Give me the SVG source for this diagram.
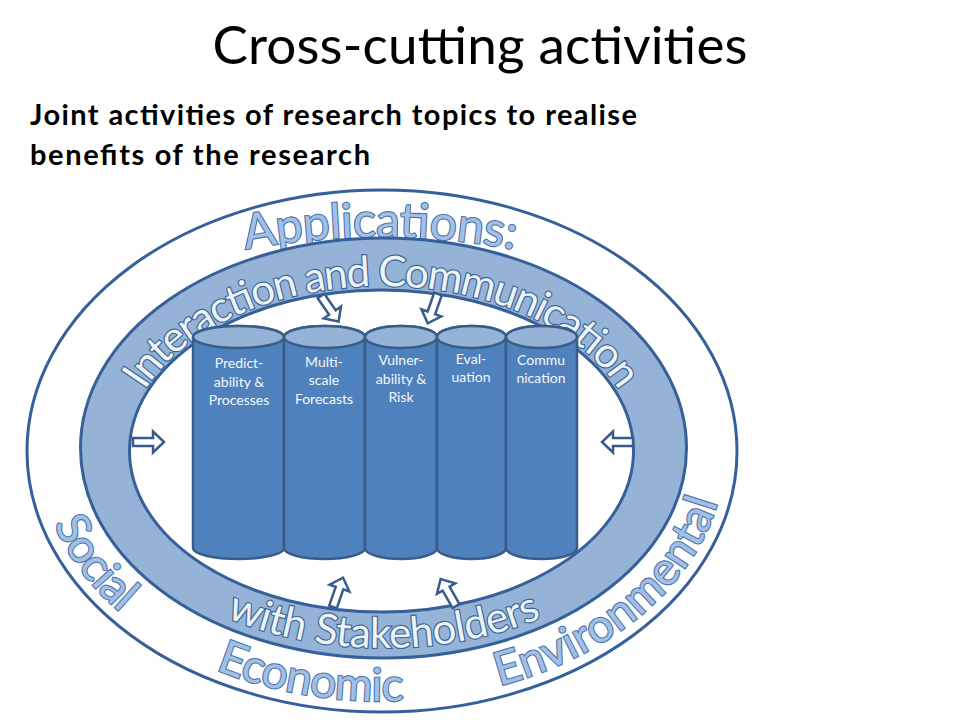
<svg xmlns="http://www.w3.org/2000/svg" width="960" height="720" viewBox="0 0 960 720">
<style>
.title{font-family:Lato,"Liberation Sans",sans-serif;font-size:53px;fill:#000}
.sub{font-family:Lato,"Liberation Sans",sans-serif;font-size:29px;font-weight:bold;fill:#000}
.edge{stroke:#36609A;stroke-width:3}
.cylb{fill:#4F81BD;stroke:#385D8A;stroke-width:2.5}
.cylt{fill:#95B3D7;stroke:#385D8A;stroke-width:2.5}
.ct{font-family:Lato,"Liberation Sans",sans-serif;font-size:14px;fill:#F4F7FB;text-anchor:middle}
.wa{font-family:Lato,"Liberation Sans",sans-serif;fill:#A3BFE3;stroke:#4A74AC;stroke-width:2.2;paint-order:stroke}
.wb{font-family:Lato,"Liberation Sans",sans-serif;fill:#EEF3F4;stroke:#3B659C;stroke-width:2.4;paint-order:stroke}
.arr{fill:#FFFFFF;stroke:#385D8A;stroke-width:2.5;stroke-linejoin:miter}
</style>
<defs>
<path id="arrow" d="M0,-4 L20,-4 L20,-10.5 L31,0 L20,10.5 L20,4 L0,4 Z"/>
<path id="pApp" d="M150,274 A732,732 0 0 1 610,274"/>
<path id="pInt" d="M127,451 A255,165 0 0 1 637,451"/>
<path id="pStk" d="M89,450 A295,198 0 0 0 679,450"/>
<path id="pSoc" d="M54,524 A343,250 0 0 0 210.5,667.5"/>
<path id="pEco" d="M215.7,669.7 A343,250 0 0 0 553.5,667.5"/>
<path id="pEnv" d="M499.3,685.9 A343,250 0 0 0 725,451"/>
</defs>

<text class="title" x="480" y="64" text-anchor="middle" textLength="535">Cross-cutting activities</text>
<text class="sub" x="30" y="125" textLength="607">Joint activities of research topics to realise</text>
<text class="sub" x="30" y="165" textLength="340">benefits of the research</text>

<g id="applications">
<ellipse cx="382" cy="451" rx="355" ry="261" fill="#FFFFFF" class="edge"/>
<text class="wa" font-size="48"><textPath href="#pApp" startOffset="50%" text-anchor="middle" textLength="270">Applications:</textPath></text>
<text class="wa" font-size="46"><textPath href="#pSoc" textLength="112">Social</textPath></text>
<text class="wa" font-size="46"><textPath href="#pEco" textLength="192">Economic</textPath></text>
<text class="wa" font-size="46"><textPath href="#pEnv" textLength="298">Environmental</textPath></text>
</g>

<g id="interaction">
<ellipse cx="383.5" cy="448" rx="303" ry="210" fill="#95B3D7" class="edge"/>
<ellipse cx="381.5" cy="451" rx="252" ry="161" fill="#FFFFFF" class="edge"/>
<text class="wb" font-size="42"><textPath href="#pInt" startOffset="50%" text-anchor="middle" textLength="539">Interaction and Communication</textPath></text>
<text class="wb" font-size="42"><textPath href="#pStk" startOffset="50%" text-anchor="middle" textLength="323">with Stakeholders</textPath></text>
</g>

<g id="cyl-predictability">
<path class="cylb" d="M193,337 L193,548 A45.5,11 0 0 0 284,548 L284,337 A45.5,11 0 0 0 193,337 Z"/>
<ellipse class="cylt" cx="238.5" cy="337" rx="45.5" ry="11"/>
<text class="ct" x="239" y="368">Predict-<tspan x="239" dy="18.5">ability  &amp;</tspan><tspan x="239" dy="18.5">Processes</tspan></text>
</g>
<g id="cyl-multiscale">
<path class="cylb" d="M284,337 L284,548 A40.5,11 0 0 0 365,548 L365,337 A40.5,11 0 0 0 284,337 Z"/>
<ellipse class="cylt" cx="324.5" cy="337" rx="40.5" ry="11"/>
<text class="ct" x="324" y="366.5">Multi-<tspan x="324" dy="18.5">scale</tspan><tspan x="324" dy="18.5">Forecasts</tspan></text>
</g>
<g id="cyl-vulnerability">
<path class="cylb" d="M365,337 L365,548 A36,11 0 0 0 437,548 L437,337 A36,11 0 0 0 365,337 Z"/>
<ellipse class="cylt" cx="401" cy="337" rx="36" ry="11"/>
<text class="ct" x="401" y="365">Vulner-<tspan x="401" dy="18.5">ability &amp;</tspan><tspan x="401" dy="18.5">Risk</tspan></text>
</g>
<g id="cyl-evaluation">
<path class="cylb" d="M437,337 L437,548 A34.5,11 0 0 0 506,548 L506,337 A34.5,11 0 0 0 437,337 Z"/>
<ellipse class="cylt" cx="471.5" cy="337" rx="34.5" ry="11"/>
<text class="ct" x="471" y="363.5">Eval-<tspan x="471" dy="18.5">uation</tspan></text>
</g>
<g id="cyl-communication">
<path class="cylb" d="M506,337 L506,548 A35.5,11 0 0 0 577,548 L577,337 A35.5,11 0 0 0 506,337 Z"/>
<ellipse class="cylt" cx="541.5" cy="337" rx="35.5" ry="11"/>
<text class="ct" x="541" y="364.5">Commu<tspan x="541" dy="18.5">nication</tspan></text>
</g>

<g id="connectors">
<use href="#arrow" class="arr" transform="translate(321,296) rotate(55.3)"/>
<use href="#arrow" class="arr" transform="translate(438,294) rotate(109.4)"/>
<use href="#arrow" class="arr" transform="translate(133,442)"/>
<use href="#arrow" class="arr" transform="translate(633,442) rotate(180)"/>
<use href="#arrow" class="arr" transform="translate(333,607) rotate(-71)"/>
<use href="#arrow" class="arr" transform="translate(456,606) rotate(-119.7)"/>
</g>
</svg>
